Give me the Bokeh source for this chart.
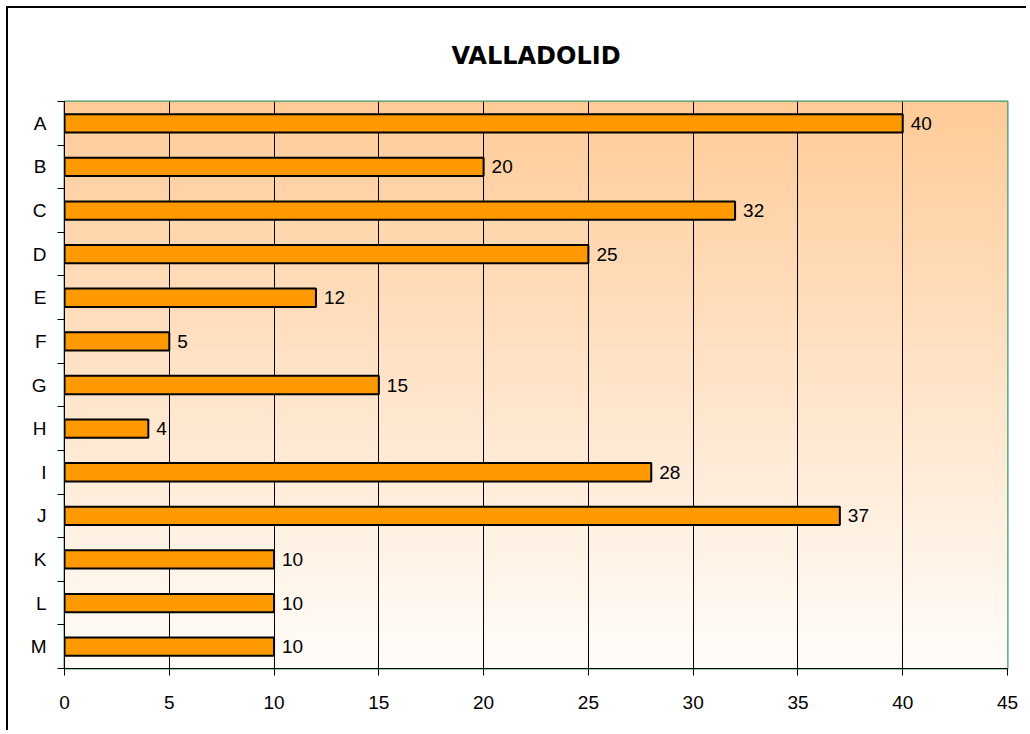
import numpy as np
from bokeh.plotting import figure
from bokeh.models import Range1d, FixedTicker, ColumnDataSource, Title
from bokeh.core.properties import value
from bokeh.embed import file_html
from bokeh.resources import INLINE

categories = ["A", "B", "C", "D", "E", "F", "G", "H", "I", "J", "K", "L", "M"]
values = [40, 20, 32, 25, 12, 5, 15, 4, 28, 37, 10, 10, 10]
x_ticks = [0, 5, 10, 15, 20, 25, 30, 35, 40, 45]
title_text = "VALLADOLID"

n = len(categories)
pos = [n - 1 - i + 0.5 for i in range(n)]

p = figure(width=1020, height=724, output_backend="svg", toolbar_location=None,
           x_range=Range1d(0, 45), y_range=Range1d(0, n),
           min_border_left=56, min_border_top=93, min_border_right=21, min_border_bottom=64)
p.styles = {"border-left": "2px solid #000", "border-top": "2px solid #000",
            "border-right": "none", "border-bottom": "none",
            "margin-left": "6px", "margin-top": "6px"}

t = Title(text=title_text, align="center", text_font="DejaVu Sans",
          text_font_size="24px", text_font_style="bold", text_color="#000000",
          standoff=63)
p.add_layout(t, "above")

p.background_fill_color = "white"
p.border_fill_color = "white"
p.outline_line_color = "#3a9a6a"
p.outline_line_width = 2

# gradient background
N = 200
frac = np.linspace(0, 1, N)  # bottom -> top
top = np.array([255, 204, 153])
bot = np.array([255, 253, 250])
cols = (bot[None, :] * (1 - frac[:, None]) + top[None, :] * frac[:, None]).astype(np.uint8)
img = np.zeros((N, 2), dtype=np.uint32)
view = img.view(dtype=np.uint8).reshape((N, 2, 4))
view[:, :, 0] = cols[:, 0][:, None]
view[:, :, 1] = cols[:, 1][:, None]
view[:, :, 2] = cols[:, 2][:, None]
view[:, :, 3] = 255
p.image_rgba(image=[img], x=0, y=0, dw=45, dh=n, level="image")

src = ColumnDataSource(dict(y=pos, v=values, lab=[str(v) for v in values], cat=categories))
p.hbar(y="y", right="v", left=0, height=0.42, source=src,
       fill_color="#FF9900", line_color="#000000", line_width=2)
p.text(x="v", y="y", text="lab", source=src, x_offset=8,
       text_baseline="middle", text_align="left", text_font=value("Liberation Sans"),
       text_font_size="19px", text_color="#000000")

# grid
p.xgrid.ticker = FixedTicker(ticks=x_ticks)
p.xgrid.grid_line_color = "#000000"
p.xgrid.grid_line_width = 1
p.ygrid.grid_line_color = None

# x axis
xa = p.xaxis[0]
xa.ticker = FixedTicker(ticks=x_ticks)
xa.axis_line_color = "#000000"
xa.axis_line_width = 1
xa.major_tick_out = 7
xa.major_tick_in = 0
xa.major_tick_line_color = "#000000"
xa.minor_tick_line_color = None
xa.major_label_text_font = "Liberation Sans"
xa.major_label_text_font_size = "19px"
xa.major_label_text_color = "#000000"
xa.major_label_standoff = 20

# y axis
ya = p.yaxis[0]
ya.ticker = FixedTicker(ticks=pos, minor_ticks=list(range(n + 1)))
ya.major_label_overrides = {pp: c for pp, c in zip(pos, categories)}
ya.axis_line_color = "#000000"
ya.axis_line_width = 1
ya.major_tick_line_color = None
ya.major_tick_out = 0
ya.major_tick_in = 0
ya.minor_tick_out = 7
ya.minor_tick_in = 0
ya.minor_tick_line_color = "#000000"
ya.major_label_text_font = "Liberation Sans"
ya.major_label_text_font_size = "19px"
ya.major_label_text_color = "#000000"
ya.major_label_standoff = 11

open("out.html", "w").write(file_html(p, INLINE))
